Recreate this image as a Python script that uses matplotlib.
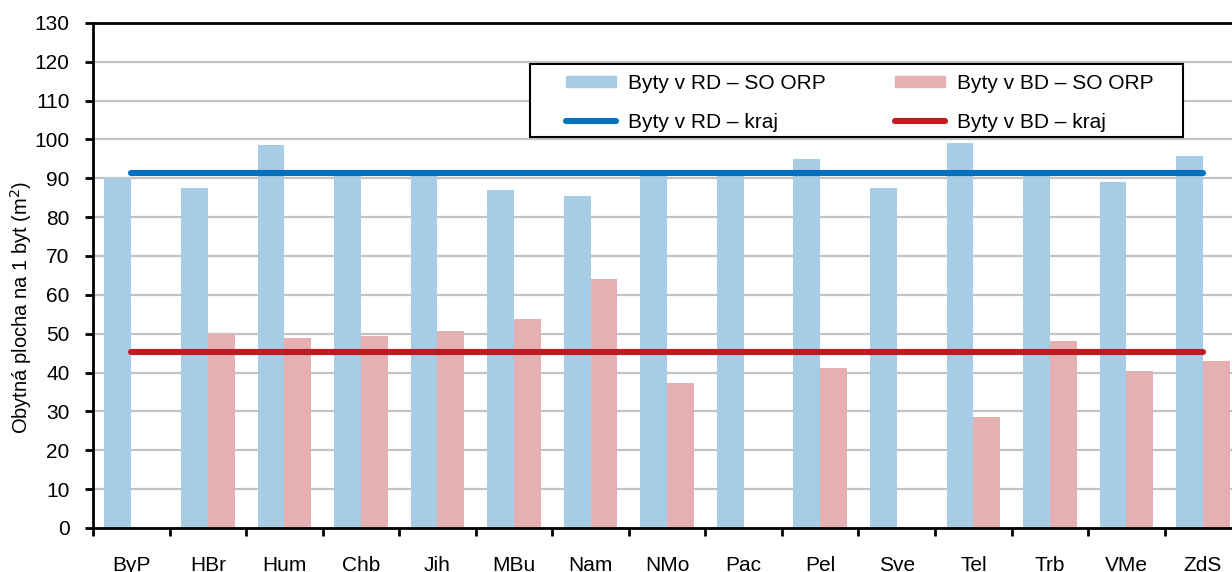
import numpy as np
import matplotlib.pyplot as plt
from matplotlib.patches import Patch, Rectangle
from matplotlib.lines import Line2D

plt.rcParams['font.family'] = ['Liberation Sans', 'DejaVu Sans']

orp = ["ByP", "HBr", "Hum", "Chb", "Jih", "MBu", "Nam", "NMo",
       "Pac", "Pel", "Sve", "Tel", "Trb", "VMe", "ZdS"]
rd_orp = [90.1, 87.5, 98.6, 91.8, 91.6, 87.0, 85.5, 92.0,
          91.6, 94.9, 87.5, 99.0, 91.8, 89.1, 95.8]
bd_orp = [np.nan, 49.9, 48.9, 49.4, 50.7, 53.8, 64.1, 37.3,
          np.nan, 41.2, np.nan, 28.6, 48.1, 40.4, 43.0]
rd_kraj = 91.4
bd_kraj = 45.4

c_rd_bar = "#A6CCE6"
c_bd_bar = "#E6AFB2"
c_rd_line = "#0070C0"
c_bd_line = "#BE1A22"
fs = 15

fig = plt.figure(figsize=(12.32, 5.72), dpi=100)
ax = fig.add_axes([0.0755, 0.077, 0.932, 0.883])

x = np.arange(len(orp))
w = 0.35
ax.bar(x - w / 2, rd_orp, w, color=c_rd_bar, zorder=2)
ax.bar(x + w / 2, bd_orp, w, color=c_bd_bar, zorder=2)
ax.plot([x[0], x[-1]], [rd_kraj, rd_kraj], color=c_rd_line, lw=4.4,
        solid_capstyle='round', zorder=3)
ax.plot([x[0], x[-1]], [bd_kraj, bd_kraj], color=c_bd_line, lw=4.4,
        solid_capstyle='round', zorder=3)

ax.set_xlim(-0.5, len(orp) - 0.5)
ax.set_ylim(0, 130)
ax.set_yticks(range(0, 131, 10))
ax.yaxis.grid(True, color="#C3C3C3", lw=1.6, zorder=0)
ax.set_axisbelow(True)

ax.set_xticks(x)
ax.set_xticklabels(orp)
ax.set_xticks(np.arange(-0.5, len(orp), 1), minor=True)
ax.tick_params(axis='x', which='major', length=0, pad=20, labelsize=fs)
ax.tick_params(axis='x', which='minor', length=6, width=2, direction='out')
ax.tick_params(axis='y', length=6, width=2, labelsize=fs, pad=11)

for s in ['left', 'bottom', 'top']:
    ax.spines[s].set_linewidth(2)
    ax.spines[s].set_color('black')
ax.spines['right'].set_visible(False)

ax.set_ylabel("Obytná plocha na 1 byt (m$^2$)", fontsize=14.5)
ax.yaxis.set_label_coords(-0.051, 0.437)

# legend box drawn separately so the padding can be wider than tall
box = Rectangle((0.381, 0.774), 0.568, 0.145, transform=ax.transAxes,
                facecolor='white', edgecolor='black', lw=1.5, zorder=4)
ax.add_patch(box)

handles = [Patch(color=c_rd_bar),
           Line2D([], [], color=c_rd_line, lw=4.4, solid_capstyle='round'),
           Patch(color=c_bd_bar),
           Line2D([], [], color=c_bd_line, lw=4.4, solid_capstyle='round')]
labels = ["Byty v RD – SO ORP", "Byty v RD – kraj",
          "Byty v BD – SO ORP", "Byty v BD – kraj"]
leg = ax.legend(handles, labels, ncol=2, loc='upper left',
                bbox_to_anchor=(0.412, 0.899), fontsize=fs, frameon=False,
                handlelength=2.4, handleheight=0.5, handletextpad=0.55,
                columnspacing=3.35, labelspacing=0.95, borderpad=0,
                borderaxespad=0)
leg.set_zorder(5)

fig.savefig("out.png", dpi=100)
